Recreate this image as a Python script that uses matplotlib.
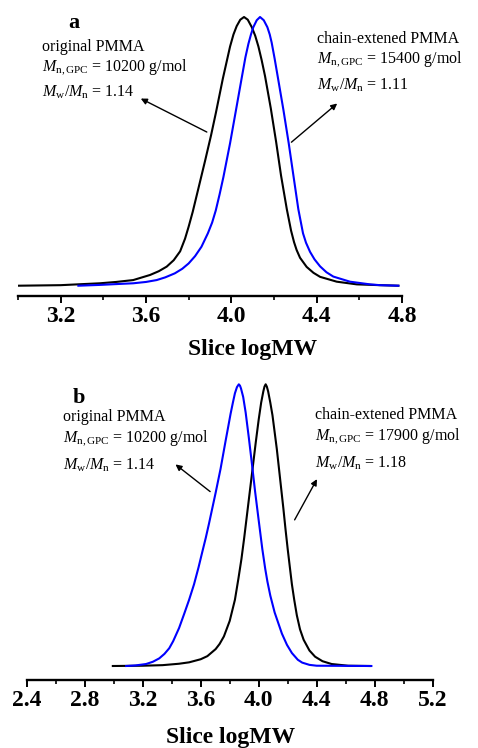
import numpy as np
import matplotlib
matplotlib.use('Agg')
import matplotlib.pyplot as plt
from matplotlib.ticker import MultipleLocator

plt.rcParams['font.family'] = 'Liberation Serif'
plt.rcParams['mathtext.fontset'] = 'custom'
plt.rcParams['mathtext.rm'] = 'Liberation Serif'
plt.rcParams['mathtext.it'] = 'Liberation Serif:italic'
plt.rcParams['mathtext.bf'] = 'Liberation Serif:bold'

# panel a: original PMMA (black), chain-extended PMMA (blue)
a_orig_x = [3.00, 3.20, 3.384, 3.46, 3.54, 3.619, 3.66, 3.697, 3.73, 3.76, 3.783, 3.80,
            3.819, 3.845, 3.877, 3.905, 3.928, 3.96, 3.994, 4.01, 4.025, 4.042, 4.0595,
            4.077, 4.096, 4.112, 4.127, 4.142, 4.158, 4.185, 4.21, 4.233, 4.26, 4.28,
            4.294, 4.306, 4.322, 4.353, 4.385, 4.416, 4.494, 4.588, 4.697, 4.783]
a_orig_y = [0.0, 0.002, 0.009, 0.014, 0.021, 0.04, 0.054, 0.071, 0.095, 0.128, 0.175, 0.22,
            0.275, 0.36, 0.465, 0.56, 0.645, 0.77, 0.89, 0.935, 0.966, 0.99, 1.0,
            0.99, 0.962, 0.93, 0.89, 0.84, 0.78, 0.66, 0.535, 0.41, 0.285, 0.205,
            0.162, 0.133, 0.104, 0.07, 0.048, 0.033, 0.015, 0.005, 0.002, 0.0]
a_ext_x = [3.283, 3.384, 3.46, 3.54, 3.60, 3.65, 3.69, 3.735, 3.77, 3.80, 3.83, 3.86,
           3.89, 3.91, 3.927, 3.945, 3.963, 3.994, 4.021, 4.049, 4.066, 4.080, 4.092,
           4.103, 4.119, 4.1345, 4.152, 4.169, 4.18, 4.189, 4.203, 4.216, 4.244, 4.269,
           4.291, 4.314, 4.336, 4.35, 4.369, 4.39, 4.416, 4.446, 4.478, 4.556, 4.65,
           4.697, 4.783]
a_ext_y = [0.0, 0.003, 0.006, 0.009, 0.014, 0.021, 0.031, 0.046, 0.063, 0.083, 0.11, 0.145,
           0.195, 0.235, 0.28, 0.34, 0.405, 0.53, 0.65, 0.775, 0.85, 0.9, 0.935,
           0.962, 0.988, 1.0, 0.988, 0.962, 0.935, 0.905, 0.845, 0.785, 0.655, 0.53,
           0.41, 0.285, 0.195, 0.16, 0.126, 0.098, 0.072, 0.05, 0.034, 0.015, 0.005,
           0.002, 0.0]

# panel b: original PMMA (blue), chain-extended PMMA (black)
b_orig_x = [3.086, 3.15, 3.223, 3.27, 3.314, 3.35, 3.383, 3.41, 3.451, 3.486, 3.52, 3.554,
            3.585, 3.611, 3.635, 3.657, 3.68, 3.703, 3.737, 3.772, 3.79, 3.806, 3.822,
            3.836, 3.85, 3.863, 3.871, 3.878, 3.893, 3.91, 3.932, 3.955, 3.975, 3.998,
            4.025, 4.045, 4.06, 4.08, 4.11, 4.16, 4.195, 4.229, 4.27, 4.30, 4.35, 4.40,
            4.777]
b_orig_y = [0.0, 0.002, 0.007, 0.015, 0.027, 0.043, 0.063, 0.088, 0.135, 0.185, 0.235, 0.29,
            0.35, 0.405, 0.455, 0.505, 0.56, 0.615, 0.70, 0.80, 0.85, 0.895, 0.935,
            0.968, 0.99, 1.0, 0.995, 0.985, 0.955, 0.9, 0.81, 0.71, 0.62, 0.525,
            0.415, 0.345, 0.30, 0.25, 0.19, 0.115, 0.075, 0.046, 0.022, 0.012, 0.004, 0.001,
            0.0]
b_ext_x = [2.994, 3.2, 3.337, 3.45, 3.52, 3.60, 3.646, 3.703, 3.73, 3.76, 3.80, 3.836,
           3.86, 3.881, 3.90, 3.92, 3.94, 3.96, 3.98, 4.0, 4.017, 4.032, 4.040, 4.048,
           4.056, 4.065, 4.08, 4.095, 4.11, 4.125, 4.14, 4.155, 4.17, 4.185, 4.20, 4.215,
           4.229, 4.245, 4.263, 4.285, 4.31, 4.35, 4.389, 4.44, 4.503, 4.617, 4.766]
b_ext_y = [0.0, 0.001, 0.003, 0.008, 0.013, 0.024, 0.035, 0.06, 0.078, 0.105, 0.16, 0.235,
           0.31, 0.38, 0.455, 0.54, 0.625, 0.71, 0.795, 0.875, 0.935, 0.975, 0.992, 1.0,
           0.992, 0.975, 0.935, 0.89, 0.83, 0.77, 0.70, 0.63, 0.56, 0.485, 0.415, 0.35,
           0.29, 0.235, 0.18, 0.13, 0.093, 0.055, 0.033, 0.017, 0.007, 0.001, 0.0]

W, H = 478, 748


def px(x, y):  # pixel position -> figure fraction
    return x / W, 1 - y / H


def style_axis(ax, xmin, xmax):
    for s in ['left', 'right', 'top']:
        ax.spines[s].set_visible(False)
    ax.spines['bottom'].set_linewidth(1.7)
    ax.set_yticks([])
    ax.set_xlim(xmin, xmax)
    ax.xaxis.set_major_locator(MultipleLocator(0.4))
    ax.xaxis.set_minor_locator(MultipleLocator(0.2))
    ax.xaxis.set_major_formatter(plt.FormatStrFormatter('%.1f'))
    ax.tick_params(axis='x', which='major', direction='out', length=5, width=1.4,
                   pad=2, labelsize=17)
    ax.tick_params(axis='x', which='minor', direction='out', length=3, width=1.2)
    for lab in ax.get_xticklabels():
        lab.set_fontweight('bold')
    ax.patch.set_alpha(0)


def label_block(fig, x, ys, name, mn, pdi):
    fs = 11.5
    fig.text(*px(x, ys[0]), name, fontsize=fs, va='baseline')
    fig.text(*px(x, ys[1]), r'$M_{\mathrm{n,GPC}}$ = ' + mn + ' g/mol', fontsize=fs, va='baseline')
    fig.text(*px(x, ys[2]), r'$M_{\mathrm{w}}/M_{\mathrm{n}}$ = ' + pdi, fontsize=fs, va='baseline')


def arrow(fig, start, end):
    fig.add_artist(matplotlib.patches.FancyArrowPatch(
        px(*start), px(*end), transform=fig.transFigure,
        arrowstyle='-|>', mutation_scale=9, lw=1.0, color='black'))


fig = plt.figure(figsize=(W / 100, H / 100), dpi=100)

# panel a
ax1 = fig.add_axes([18 / W, 1 - 296 / H, 384 / W, 291 / H])
ax1.plot(a_orig_x, a_orig_y, color='black', lw=1.5)
ax1.plot(a_ext_x, a_ext_y, color='#0000ff', lw=1.5)
style_axis(ax1, 3.0, 4.8)
ax1.set_ylim(-0.0383, 1.0447)
fig.text(*px(253, 355), 'Slice logMW', fontsize=17, fontweight='bold', ha='center', va='baseline')
fig.text(*px(68, 28), 'a', fontsize=16, fontweight='bold', va='baseline')
label_block(fig, 41.7, [50.7, 71, 97], 'original PMMA', '10200', '1.14')
label_block(fig, 316.7, [43.3, 63.3, 89.3], 'chain-extened PMMA', '15400', '1.11')
arrow(fig, (209.3, 133.3), (138.3, 97.3))
arrow(fig, (289.3, 144), (339.3, 101.7))

# panel b
ax2 = fig.add_axes([26.7 / W, 1 - 680 / H, 406 / W, 305 / H])
ax2.plot(b_ext_x, b_ext_y, color='black', lw=1.5)
ax2.plot(b_orig_x, b_orig_y, color='#0000ff', lw=1.5)
style_axis(ax2, 2.4, 5.2)
ax2.set_ylim(-0.0497, 1.033)
fig.text(*px(231, 743), 'Slice logMW', fontsize=17, fontweight='bold', ha='center', va='baseline')
fig.text(*px(73, 403), 'b', fontsize=16, fontweight='bold', va='baseline')
label_block(fig, 62.7, [420.7, 441.7, 469.3], 'original PMMA', '10200', '1.14')
label_block(fig, 315, [419.3, 440, 467.7], 'chain-extened PMMA', '17900', '1.18')
arrow(fig, (212.3, 493.3), (173.3, 462.7))
arrow(fig, (293.3, 522.3), (318.3, 476.7))

fig.savefig('out.png', dpi=100)
